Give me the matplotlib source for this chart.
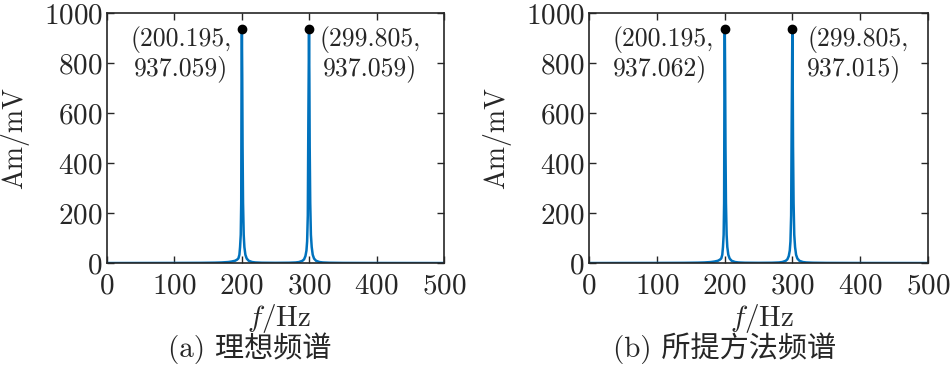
import matplotlib
matplotlib.use("Agg")
import matplotlib.pyplot as plt
import numpy as np

plt.rcParams["font.family"] = ["cmr10", "Noto Sans CJK SC"]
plt.rcParams["mathtext.fontset"] = "cm"
plt.rcParams["axes.formatter.use_mathtext"] = True

BLUE = "#0072BD"
INK = "#262626"

# spectrum samples (Hz, mV)
freq = [0, 50, 100, 140, 160, 170, 180, 185, 190, 193, 195, 196.5, 197.5,
        198.5, 199.2, 199.7, 200.195, 200.7, 201.2, 201.9, 202.9, 203.9,
        205.4, 207.4, 210.4, 215.4, 220.4, 230, 250, 270, 280, 285, 290,
        292.5, 294.5, 296, 297, 298, 298.8, 299.3, 299.805, 300.3, 300.8,
        301.6, 302.6, 303.8, 305.3, 307.3, 310.3, 315.3, 320.3, 330, 350,
        400, 450, 500]
amp_a = [0.0, 0.2, 0.4, 0.8, 1.5, 2.3, 4.0, 6.0, 9.0, 13.5, 18.5, 33, 64,
         113, 241, 750, 937.059, 750, 468, 241, 113, 64, 33, 17.7, 8.9, 4.0,
         2.3, 1.2, 0.8, 1.2, 2.3, 4.0, 8.9, 15, 28, 50, 87, 190, 560, 750,
         937.059, 750, 468, 241, 113, 64, 33, 17.7, 8.9, 4.0, 2.3, 1.2, 0.5,
         0.2, 0.1, 0.0]
amp_b = list(amp_a)
amp_b[freq.index(200.195)] = 937.062
amp_b[freq.index(299.805)] = 937.015

peaks_f = [200.195, 299.805]
peaks_a = [937.059, 937.059]
peaks_b = [937.062, 937.015]

x_ticks = [0, 100, 200, 300, 400, 500]
y_ticks = [0, 200, 400, 600, 800, 1000]
captions = ["(a) 理想频谱", "(b) 所提方法频谱"]

fig = plt.figure(figsize=(9.5, 3.71), dpi=100)
ax_a = fig.add_axes([0.1126, 0.291, 0.3547, 0.674])
ax_b = fig.add_axes([0.620, 0.291, 0.357, 0.674])

# axes, amplitudes, peak values, caption, caption x (fig), align, label offsets
panels = [
    (ax_a, amp_a, peaks_a, captions[0], 0.263, "center", 15, 16),
    (ax_b, amp_b, peaks_b, captions[1], 0.763, "left", 16, 22),
]

for ax, amp, pk, cap, cap_x, malign, off_l, off_r in panels:
    ax.plot(freq, amp, color=BLUE, lw=1.8)
    ax.plot(peaks_f, pk, "o", color="black", ms=6)
    ax.text(peaks_f[0] - off_l, 948, f"({peaks_f[0]:.3f},\n{pk[0]:.3f})",
            ha="right", va="top", fontsize=18.5, multialignment=malign,
            linespacing=1.1, color=INK)
    ax.text(peaks_f[1] + off_r, 948, f"({peaks_f[1]:.3f},\n{pk[1]:.3f})",
            ha="left", va="top", fontsize=18.5, multialignment=malign,
            linespacing=1.1, color=INK)
    ax.set_xlim(0, 500)
    ax.set_ylim(0, 1000)
    ax.set_xticks(x_ticks)
    ax.set_yticks(y_ticks)
    ax.tick_params(direction="in", top=True, right=True, labelsize=21,
                   length=5, width=1.0, colors=INK)
    ax.tick_params(axis="x", pad=7)
    ax.tick_params(axis="y", pad=3)
    for s in ax.spines.values():
        s.set_linewidth(1.2)
        s.set_edgecolor(INK)
    ax.text(0.51, -0.22, r"$f$/Hz", transform=ax.transAxes, ha="center",
            va="center", fontsize=21, color=INK)
    ax.text(-0.273, 0.5, "Am/mV", transform=ax.transAxes, ha="center",
            va="center", rotation=90, fontsize=20, color=INK)
    fig.text(cap_x, 1 - 348 / 371, cap, ha="center", va="center",
             fontsize=21, color=INK)

fig.savefig("out.png", dpi=100)
